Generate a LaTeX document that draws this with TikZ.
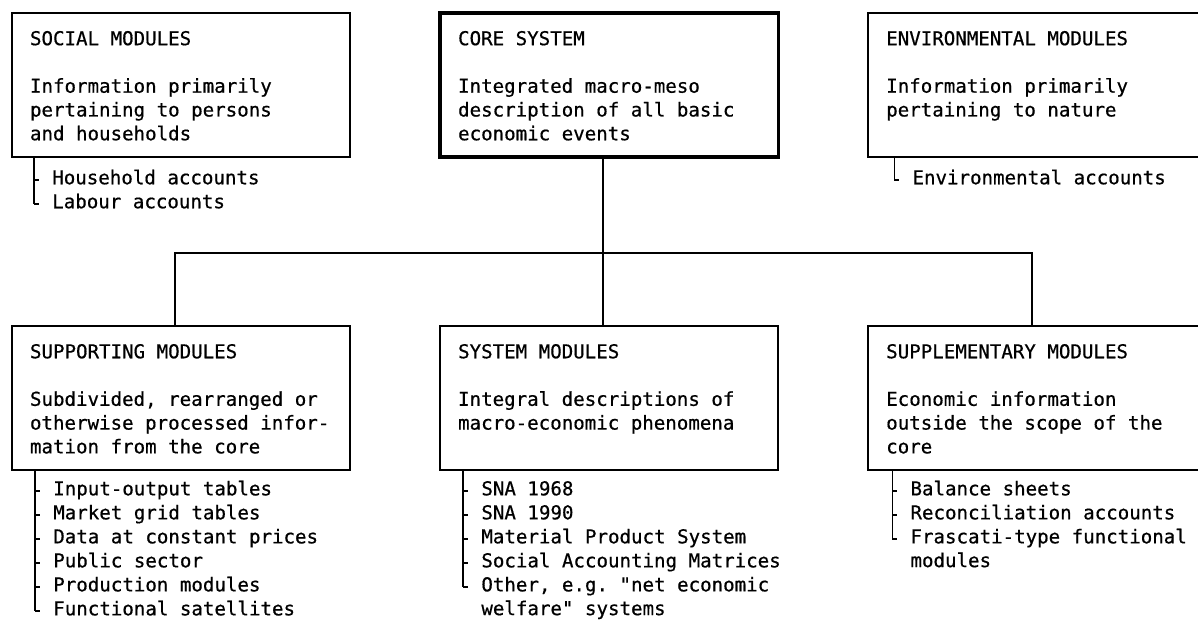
\documentclass[tikz,border=0pt]{standalone}
\usepackage{fontspec}
\setmonofont{DejaVu Sans Mono}[UprightFeatures={FakeBold=0.6}]
\usetikzlibrary{positioning, calc}

\begin{document}
\begin{tikzpicture}[
		x=0.025cm, y=-0.025cm,
		font=\ttfamily\frenchspacing\fontsize{13.6}{16.9}\selectfont,
		module/.style={
			draw,
			line width=1.2pt,
			outer sep=0pt,
			inner xsep=0.45cm,
			inner ysep=0.45cm,
			anchor=north west,
			execute at begin node={\begin{minipage}[c][2.7cm][t]{7.55cm}},
			execute at end node={\end{minipage}}
		},
		coremodule/.style={module, line width=2.4pt},
		entry/.style={
			anchor=west,
			inner xsep=0.325cm,
			inner ysep=0pt,
			text height=0.8em,
			text depth=0.2em
		},
		link/.style={line width=1.2pt},
		brace/.style={line width=1pt}
		]
		
		\useasboundingbox (0,0) rectangle (1198,619);
		
		% --- Top row ---
		\node[module] (social) at (12,13) {
			SOCIAL MODULES\\[\baselineskip]
			Information primarily\\
			pertaining to persons\\
			and households
		};
		
		\node[coremodule, right=2.25cm of social] (core) {
			CORE SYSTEM\\[\baselineskip]
			Integrated macro-meso\\
			description of all basic\\
			economic events
		};
		
		\node[module, right=2.25cm of core] (env) {
			ENVIRONMENTAL MODULES\\[\baselineskip]
			Information primarily\\
			pertaining to nature
		};
		
		% --- Bottom row ---
		\node[module, below=4.225cm of social] (supporting) {
			SUPPORTING MODULES\\[\baselineskip]
			Subdivided, rearranged or\\
			otherwise processed infor-\\
			mation from the core
		};
		
		\node[module, below=4.225cm of core] (system) {
			SYSTEM MODULES\\[\baselineskip]
			Integral descriptions of\\
			macro-economic phenomena
		};
		
		\node[module, below=4.225cm of env] (supplementary) {
			SUPPLEMENTARY MODULES\\[\baselineskip]
			Economic information\\
			outside the scope of the\\
			core
		};
		
		% --- Links ---
		\coordinate (drop) at ($(core.south)+(-6,0)$);
		\coordinate (bus) at ($(drop)+(0,96)$);
		\draw[link] (drop) -- (drop |- system.north);
		\draw[link] ($(supporting.north)+(-6,0)$) |- (bus)
			-| ($(supplementary.north)+(-5,0)$);
		
		% --- Lists ---
		\coordinate (social-top) at ($(social.south west)+(22,0)$);
		\foreach \txt [count=\i] in {Household accounts, Labour accounts}{
			\node[entry] (social-\i) at ($(social.south west)+(27,-1+24*\i)$) {\txt};
			\draw[brace] (social-top |- social-\i.west) -- (social-\i.west);
		}
		\draw[brace] (social-top) -- (social-top |- social-2.west);
		
		\coordinate (env-top) at ($(env.south west)+(26,0)$);
		\foreach \txt [count=\i] in {Environmental accounts}{
			\node[entry] (env-\i) at ($(env.south west)+(31,-1+24*\i)$) {\txt};
			\draw[brace] (env-top |- env-\i.west) -- (env-\i.west);
		}
		\draw[brace] (env-top) -- (env-top |- env-1.west);
		
		\coordinate (supporting-top) at ($(supporting.south west)+(23,0)$);
		\foreach \txt [count=\i] in {Input-output tables, Market grid tables,
			Data at constant prices, Public sector, Production modules,
			Functional satellites}{
			\node[entry] (supporting-\i) at ($(supporting.south west)+(28,-3+24*\i)$) {\txt};
			\draw[brace] (supporting-top |- supporting-\i.west) -- (supporting-\i.west);
		}
		\draw[brace] (supporting-top) -- (supporting-top |- supporting-6.west);
		
		\coordinate (system-top) at ($(system.south west)+(23,0)$);
		\foreach \txt [count=\i] in {SNA 1968, SNA 1990, Material Product System,
			Social Accounting Matrices,
			{\parbox[t]{9cm}{Other, e.g. "net economic\\welfare" systems}}}{
			\node[entry] (system-\i) at ($(system.south west)+(28,-3+24*\i)$) {\txt};
			\draw[brace] (system-top |- system-\i.west) -- (system-\i.west);
		}
		\draw[brace] (system-top) -- (system-top |- system-5.west);
		
		\coordinate (supplementary-top) at ($(supplementary.south west)+(24,0)$);
		\foreach \txt [count=\i] in {Balance sheets, Reconciliation accounts,
			{\parbox[t]{9cm}{Frascati-type functional\\modules}}}{
			\node[entry] (supplementary-\i) at ($(supplementary.south west)+(29,-3+24*\i)$) {\txt};
			\draw[brace] (supplementary-top |- supplementary-\i.west) -- (supplementary-\i.west);
		}
		\draw[brace] (supplementary-top) -- (supplementary-top |- supplementary-3.west);
		
	\end{tikzpicture}
\end{document}
